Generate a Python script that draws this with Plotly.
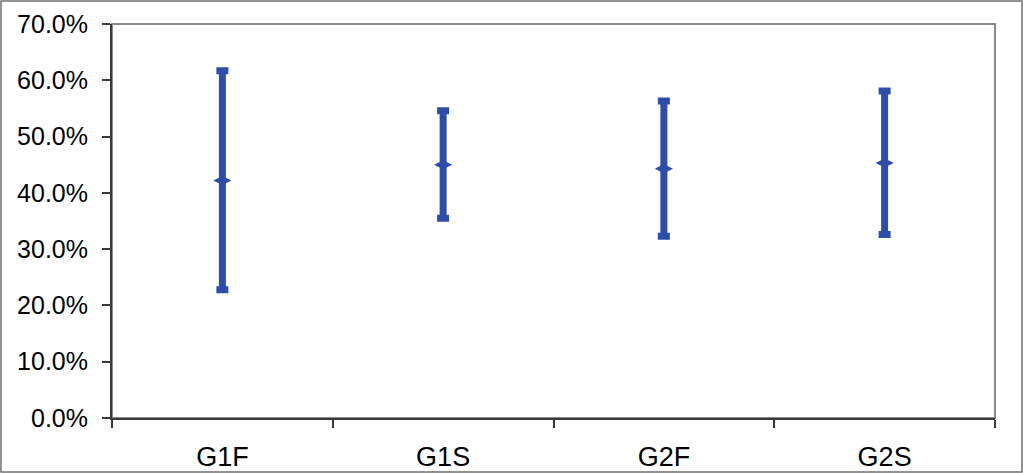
import plotly.graph_objects as go

categories = ["G1F", "G1S", "G2F", "G2S"]
mid_values = [0.422, 0.450, 0.443, 0.453]
upper_values = [0.617, 0.546, 0.563, 0.581]
lower_values = [0.228, 0.355, 0.323, 0.326]

y_ticks = [0, 0.1, 0.2, 0.3, 0.4, 0.5, 0.6, 0.7]

BLUE = "#2E4DA8"
plus = [u - m for u, m in zip(upper_values, mid_values)]
minus = [m - l for m, l in zip(mid_values, lower_values)]

fig = go.Figure()
fig.add_trace(go.Scatter(
    x=categories, y=mid_values, mode="markers",
    marker=dict(symbol="diamond-wide", size=13, color=BLUE),
    error_y=dict(type="data", symmetric=False, array=plus, arrayminus=minus,
                 color=BLUE, thickness=7, width=6),
    showlegend=False,
))

W, H = 1023, 473
L, R, T, B = 112, 28, 24, 55
pw, ph = W - L - R, H - T - B

fig.update_layout(
    width=W, height=H,
    margin=dict(l=L, r=R, t=T, b=B, pad=0, autoexpand=False),
    paper_bgcolor="white", plot_bgcolor="white",
    font=dict(family="Liberation Sans, Arial, sans-serif", size=25, color="black"),
    shapes=[
        dict(type="rect", xref="x domain", yref="y domain", x0=0, x1=1, y0=0, y1=1,
             line=dict(color="#8a8a8a", width=2), layer="below"),
        dict(type="rect", xref="paper", yref="paper",
             x0=(1 - L) / pw, x1=(W - L - 1) / pw,
             y0=-(B - 1) / ph, y1=(H - B - 1) / ph,
             line=dict(color="#6e6e6e", width=1.5), layer="below"),
    ],
)
fig.update_xaxes(
    type="category", range=[-0.5, 3.5], showgrid=False, zeroline=False,
    showline=True, linecolor="#3a3a3a", linewidth=2, automargin=False,
    ticks="outside", tickson="boundaries", ticklen=8, tickwidth=2, tickcolor="#3a3a3a",
    tickfont=dict(size=27), ticklabelstandoff=14,
)
fig.update_yaxes(
    range=[0, 0.7], tickvals=y_ticks, tickformat=".1%", showgrid=False, zeroline=False,
    showline=True, linecolor="#3a3a3a", linewidth=2, automargin=False,
    ticks="outside", ticklen=8, tickwidth=2, tickcolor="#3a3a3a",
    tickfont=dict(size=25), ticklabelstandoff=9,
)

fig.write_html(
    "out.html",
    config={"displayModeBar": False},
    post_script="document.body.style.margin='0';document.body.style.overflow='hidden';",
)
